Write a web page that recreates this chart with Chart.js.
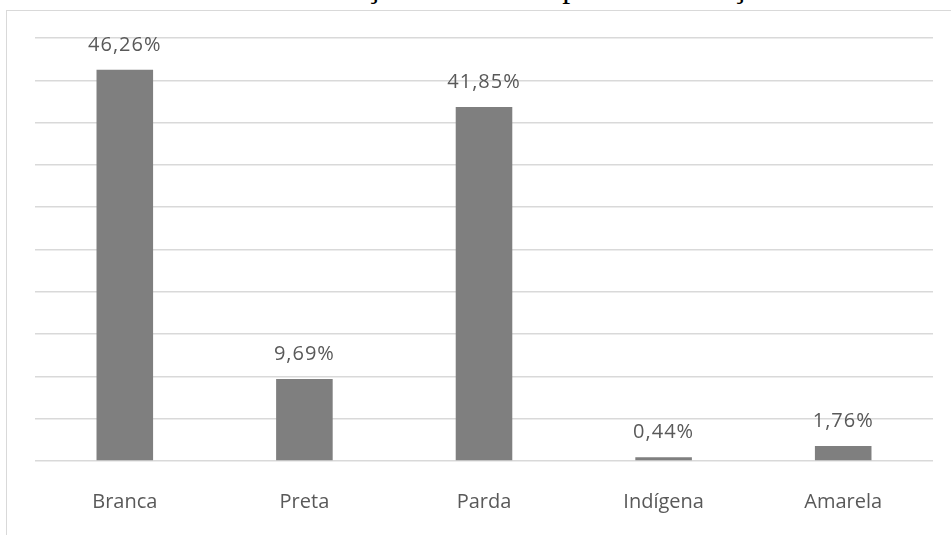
<!DOCTYPE html>
<html>
<head>
<meta charset="utf-8">
<script src="https://cdn.jsdelivr.net/npm/chart.js@4"></script>
<style>
  html, body { margin: 0; padding: 0; background: #fff; }
  body { width: 951px; height: 535px; position: relative; overflow: hidden; }
  #title {
    position: absolute; left: 0; top: -30px;
    font-family: "Liberation Serif", "Times New Roman", serif;
    font-size: 32px; line-height: 32px; color: #000; white-space: nowrap;
  }
  #frame {
    position: absolute; left: 6px; top: 10px; width: 1000px; height: 600px;
    border: 1px solid #d9d9d9; box-sizing: border-box;
  }
  #wrap { position: absolute; left: 0; top: 0; width: 951px; height: 535px; }
</style>
</head>
<body>
<div id="title">Gráfico 1 - Distribuição dos alunos por classificação racial</div>
<div id="frame"></div>
<div id="wrap"><canvas id="chart" width="951" height="535"></canvas></div>
<script>
// ============================
// Data
// ============================
const categories = ['Branca', 'Preta', 'Parda', 'Indígena', 'Amarela'];
const percentages = [46.26, 9.69, 41.85, 0.44, 1.76];
const valueLabels = ['46,26%', '9,69%', '41,85%', '0,44%', '1,76%'];

const textColor = '#595959';
const fontFamily = '"Open Sans", "Noto Sans", sans-serif';

// ============================
// Title placement (only its lower edge shows, as in the cropped source)
// ============================
(function placeTitle() {
    const title = document.getElementById('title');
    const m = document.createElement('canvas').getContext('2d');
    m.font = '32px "Liberation Serif"';
    const txt = title.textContent;
    const idx = txt.indexOf('ç');
    const offset = m.measureText(txt.slice(0, idx)).width + m.measureText('ç').width / 2;
    title.style.left = (373 - offset) + 'px';
})();

// Draw value labels above each bar
const barLabels = {
    id: 'barLabels',
    afterDatasetsDraw(chart) {
        const ctx = chart.ctx;
        const meta = chart.getDatasetMeta(0);
        ctx.save();
        ctx.font = '20px ' + fontFamily;
        ctx.letterSpacing = '1px';
        ctx.fillStyle = textColor;
        ctx.textAlign = 'center';
        ctx.textBaseline = 'alphabetic';
        meta.data.forEach((bar, i) => {
            ctx.fillText(valueLabels[i], bar.x, bar.y - 19);
        });
        ctx.restore();
    }
};

const ctx = document.getElementById('chart').getContext('2d');
new Chart(ctx, {
    type: 'bar',
    data: {
        labels: categories,
        datasets: [{
            data: percentages,
            backgroundColor: '#7f7f7f',
            borderWidth: 0,
            barPercentage: 0.315,
            categoryPercentage: 1
        }]
    },
    options: {
        responsive: false,
        animation: false,
        layout: { padding: { left: 35, right: 18, top: 38, bottom: 0 } },
        plugins: {
            legend: { display: false },
            tooltip: { enabled: false }
        },
        scales: {
            x: {
                grid: { display: false, drawTicks: false },
                border: { display: false },
                ticks: {
                    color: textColor,
                    font: { family: fontFamily, size: 20 },
                    padding: 29
                },
                afterFit(scale) { scale.height = 74; }
            },
            y: {
                min: 0,
                max: 50,
                ticks: { display: false, stepSize: 5 },
                grid: { color: '#d9d9d9', lineWidth: 1.5, drawTicks: false },
                border: { display: false },
                afterFit(scale) { scale.width = 0; }
            }
        }
    },
    plugins: [barLabels]
});
</script>
</body>
</html>
